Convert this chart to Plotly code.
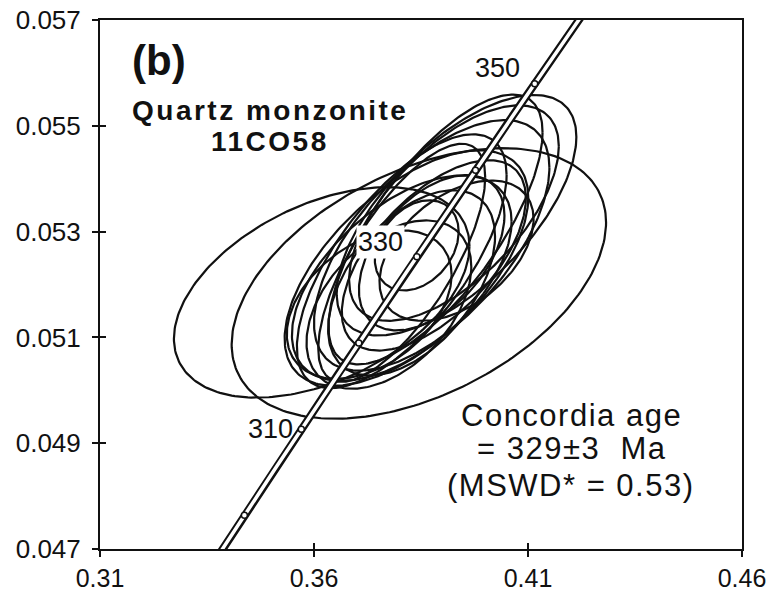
import numpy as np
import plotly.graph_objects as go

# ---------------- data ----------------
# U-Pb analyses: 207Pb/235U (x), 206Pb/238U (y), 2-sigma half widths and error correlation
ell_x   = [0.3618, 0.3845, 0.3933, 0.3884, 0.3816, 0.3805, 0.3840, 0.3805, 0.3875,
           0.3828, 0.3880, 0.3775, 0.3875, 0.3805, 0.3927, 0.3729, 0.3933]
ell_y   = [0.05185, 0.05202, 0.05331, 0.05304, 0.05231, 0.05212, 0.05274, 0.05244, 0.05274,
           0.05203, 0.05255, 0.05162, 0.05260, 0.05241, 0.05335, 0.05162, 0.05264]
ell_sx  = [0.03453, 0.04374, 0.02800, 0.02500, 0.02846, 0.02566, 0.00980, 0.02450, 0.02750,
           0.01950, 0.02150, 0.01925, 0.01700, 0.01950, 0.02450, 0.01925, 0.01800]
ell_sy  = [0.001989, 0.002557, 0.002273, 0.002550, 0.002225, 0.001941, 0.000852, 0.002400, 0.002368,
           0.001752, 0.001799, 0.001591, 0.001468, 0.002250, 0.002036, 0.001402, 0.001326]
ell_rho = [0.44, 0.45, 0.65, 0.72, 0.60, 0.55, 0.30, 0.68, 0.62,
           0.50, 0.60, 0.45, 0.48, 0.72, 0.62, 0.40, 0.45]

# Concordia (decay constants, per year)
LAMBDA_238 = 1.55125e-10
LAMBDA_235 = 9.8485e-10
conc_age_start, conc_age_end = 285.0, 366.0      # Ma
marker_ages = [300, 310, 320, 330, 340, 350]      # Ma
label_ages = [310, 330, 350]

x_ticks = [0.31, 0.36, 0.41, 0.46]
x_ticktext = ["0.31", "0.36", "0.41", "0.46"]
y_ticks = [0.047, 0.049, 0.051, 0.053, 0.055, 0.057]
y_ticktext = ["0.047", "0.049", "0.051", "0.053", "0.055", "0.057"]

panel_label = "(b)"
sample_lines = ["Quartz monzonite", "11CO58"]
result_lines = ["Concordia age", "= 329\u00b13  Ma", "(MSWD* = 0.53)"]

# ---------------- figure ----------------
FONT = "Liberation Sans, Arial, Helvetica, sans-serif"
INK = "#111111"

def concordia(age_ma):
    t = np.asarray(age_ma, dtype=float) * 1e6
    return np.exp(LAMBDA_235 * t) - 1.0, np.exp(LAMBDA_238 * t) - 1.0

fig = go.Figure()

theta = np.linspace(0, 2 * np.pi, 241)
for cx, cy, sx, sy, r in zip(ell_x, ell_y, ell_sx, ell_sy, ell_rho):
    ex = cx + sx * np.cos(theta)
    ey = cy + sy * (r * np.cos(theta) + np.sqrt(1 - r * r) * np.sin(theta))
    fig.add_trace(go.Scatter(x=ex, y=ey, mode="lines",
                             line=dict(color=INK, width=2.2),
                             hoverinfo="skip", showlegend=False))

ages = np.linspace(conc_age_start, conc_age_end, 200)
cxs, cys = concordia(ages)
fig.add_trace(go.Scatter(x=cxs, y=cys, mode="lines",
                         line=dict(color=INK, width=8),
                         hoverinfo="skip", showlegend=False))
fig.add_trace(go.Scatter(x=cxs, y=cys, mode="lines",
                         line=dict(color="white", width=3.5),
                         hoverinfo="skip", showlegend=False))
mx, my = concordia(marker_ages)
fig.add_trace(go.Scatter(x=mx, y=my, mode="markers",
                         marker=dict(size=6, color="white",
                                     line=dict(color=INK, width=1.5)),
                         hoverinfo="skip", showlegend=False))

# invisible trace so the inside-tick overlay axes are drawn
fig.add_trace(go.Scatter(x=[None], y=[None], xaxis="x2", yaxis="y2",
                         showlegend=False, hoverinfo="skip"))

annotations = []
lx, ly = concordia(label_ages)
label_shift = {310: (-6, 0), 330: (-12, 15), 350: (-13, 16)}
for a, x, y in zip(label_ages, lx, ly):
    dx, dy = label_shift[a]
    annotations.append(dict(x=x, y=y, xref="x", yref="y", text=str(a),
                            showarrow=False, xanchor="right", yanchor="middle",
                            xshift=dx, yshift=dy,
                            bgcolor="white" if a == 330 else None, borderpad=1,
                            font=dict(family=FONT, size=27, color=INK)))

annotations.append(dict(x=0.0919, y=0.924, xref="paper", yref="paper",
                        text="<b>%s</b>" % panel_label, showarrow=False,
                        xanchor="center", yanchor="middle",
                        font=dict(family=FONT, size=42, color=INK)))
for txt, yy in zip(sample_lines, [0.828, 0.770]):
    annotations.append(dict(x=0.265, y=yy, xref="paper", yref="paper",
                            text="<b><span style='letter-spacing:2.5px'>%s</span></b>" % txt,
                            showarrow=False, xanchor="center", yanchor="middle",
                            font=dict(family=FONT, size=28, color=INK)))
for txt, yy in zip(result_lines, [0.253, 0.19, 0.12]):
    annotations.append(dict(x=0.734, y=yy, xref="paper", yref="paper",
                            text="<span style='letter-spacing:1.5px'>%s</span>" % txt,
                            showarrow=False, xanchor="center", yanchor="middle",
                            font=dict(family=FONT, size=31, color=INK)))

axis_common = dict(showgrid=False, zeroline=False, showline=True, automargin=False,
                   linecolor=INK, linewidth=2, mirror=True,
                   ticks="outside", ticklen=6, tickwidth=2, tickcolor=INK,
                   ticklabeloverflow="allow")
overlay_common = dict(showticklabels=False, automargin=False,
                      ticks="inside", ticklen=6, tickwidth=2, tickcolor=INK,
                      showgrid=False, zeroline=False, showline=False)

# the page adds an 8px body margin, so the figure is 8px smaller
fig.update_layout(
    width=768, height=587,
    margin=dict(l=92, r=34, t=12, b=46, autoexpand=False),
    paper_bgcolor="white", plot_bgcolor="white",
    showlegend=False,
    xaxis=dict(range=[0.31, 0.46], tickmode="array", tickvals=x_ticks,
               ticktext=x_ticktext, ticklabelstandoff=0,
               tickfont=dict(family=FONT, size=25, color=INK), **axis_common),
    yaxis=dict(range=[0.047, 0.057], tickmode="array", tickvals=y_ticks,
               ticktext=y_ticktext, ticklabelstandoff=6,
               tickfont=dict(family=FONT, size=26, color=INK), **axis_common),
    xaxis2=dict(range=[0.31, 0.46], overlaying="x", anchor="y", side="bottom",
                tickmode="array", tickvals=x_ticks, **overlay_common),
    yaxis2=dict(range=[0.047, 0.057], overlaying="y", anchor="x", side="left",
                tickmode="array", tickvals=y_ticks, **overlay_common),
    annotations=annotations,
)

fig.write_html("out.html")
